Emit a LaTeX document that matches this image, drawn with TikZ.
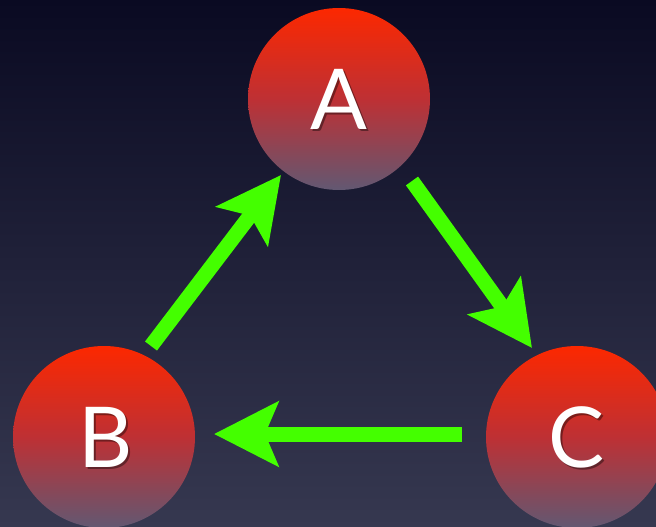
\documentclass[tikz,border=0pt]{standalone}
\usepackage{fontspec}
\setmainfont{Lato}
\usetikzlibrary{arrows.meta,shadings}
\definecolor{bgtop}{RGB}{10,10,34}
\definecolor{bgbot}{RGB}{54,56,80}
\definecolor{ctop}{RGB}{252,40,0}
\definecolor{cmid}{RGB}{190,48,52}
\definecolor{cbot}{RGB}{98,88,114}
\definecolor{arrowgreen}{RGB}{68,255,0}
\tikzset{
  ball/.style={circle, minimum size=182pt, inner sep=0pt, outer sep=0pt,
    top color=ctop, bottom color=cbot, middle color=cmid},
  lettertxt/.style={text=white, font=\fontsize{84}{84}\selectfont, inner sep=0pt},
  shadowtxt/.style={text=black, opacity=0.4, font=\fontsize{84}{84}\selectfont, inner sep=0pt},
  flow/.style={draw=arrowgreen, line width=15pt,
    -{Stealth[length=64pt, width=64pt, inset=13pt, fill=arrowgreen]}}
}
\begin{document}
\begin{tikzpicture}[x=1pt,y=-1pt]
\shade[top color=bgtop, bottom color=bgbot] (0,0) rectangle (656,527);
\useasboundingbox (0,0) rectangle (656,527);
\node[ball] (A) at (339,99) {};
\node[ball] (B) at (104,437) {};
\node[ball] (C) at (577,437) {};
\node[shadowtxt] at (341,101.5) {A};
\node[shadowtxt] at (108,439.5) {B};
\node[shadowtxt] at (579,439.5) {C};
\node[lettertxt] (At) at (A) {A};
\node[lettertxt] (Bt) at (106,437) {B};
\node[lettertxt] (Ct) at (C) {C};
\draw[flow] ([shift={(47,-91)}]B.center) -- ([shift={(-58,76)}]A.center);
\draw[flow] ([shift={(73,82)}]A.center) -- ([shift={(-45,-89)}]C.center);
\draw[flow] ([shift={(-115,-3)}]C.center) -- ([shift={(110,-3)}]B.center);
\end{tikzpicture}
\end{document}
